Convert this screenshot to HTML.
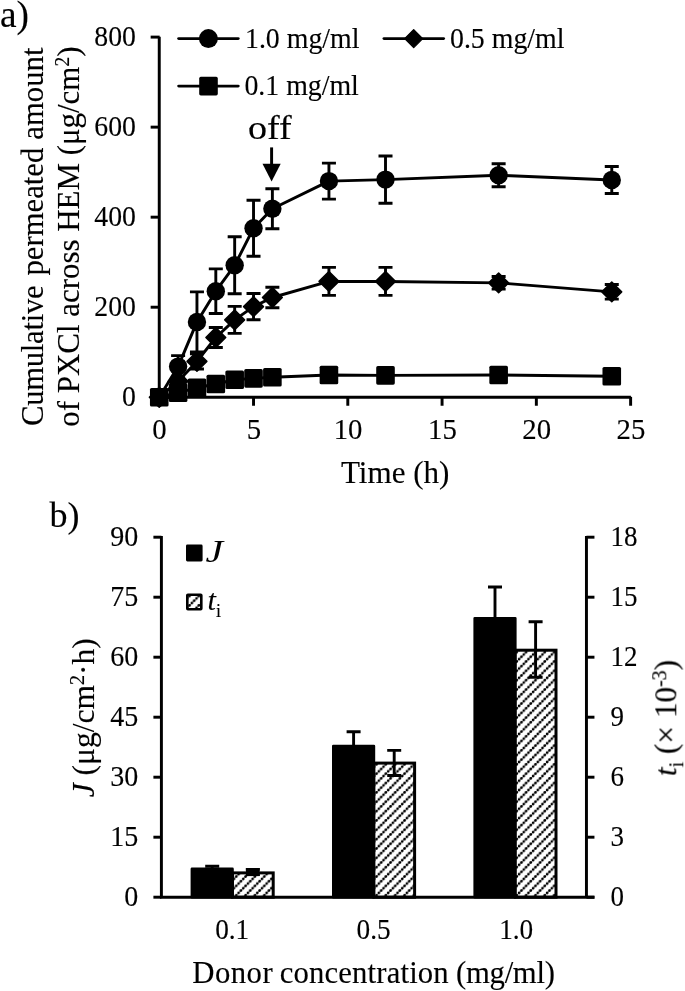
<!DOCTYPE html>
<html lang="en">
<head>
<meta charset="utf-8">
<title>Cumulative permeated amount of PXCl across HEM</title>
<style>
html,body{margin:0;padding:0;background:#fff;}
body{width:685px;height:991px;overflow:hidden;}
svg{display:block;}
text{font-family:"Liberation Serif", serif;fill:#000;stroke:#000;stroke-width:0.14px;stroke-linejoin:round;}
.tick{font-size:30.3px;}
.title{font-size:31.5px;}
.off{font-size:34.5px;}
.ws1{word-spacing:-1.5px;}
.ls1{letter-spacing:-0.3px;}
.legj{font-size:32.5px;stroke-width:0;}
.big{font-size:36px;}
.biga{font-size:37px;}
.it{font-style:italic;}
.sup{font-size:20px;}
.sub{font-size:18px;}
.sub2{font-size:20px;}
</style>
</head>
<body>
<svg width="685" height="991" viewBox="0 0 685 991">
<defs><filter id="soft" x="0" y="0" width="685" height="991" filterUnits="userSpaceOnUse" color-interpolation-filters="sRGB"><feGaussianBlur stdDeviation="0.35"/></filter></defs>
<rect width="685" height="991" fill="#fff"/>
<g filter="url(#soft)">
<g id="chart-a">
<path d="M159.25 36.80V397.25H630.92" stroke="#000" stroke-width="2.95" fill="none"/>
<path d="M150.65 397.25H159.65" stroke="#000" stroke-width="2.95"/>
<text id="ay0" transform="translate(135.90 406.45) scale(0.9150 1.0000)" text-anchor="end" class="tick">0</text>
<path d="M150.65 307.21H159.65" stroke="#000" stroke-width="2.95"/>
<text id="ay200" transform="translate(135.90 316.41) scale(0.9150 1.0000)" text-anchor="end" class="tick">200</text>
<path d="M150.65 217.17H159.65" stroke="#000" stroke-width="2.95"/>
<text id="ay400" transform="translate(135.90 226.37) scale(0.9150 1.0000)" text-anchor="end" class="tick">400</text>
<path d="M150.65 127.14H159.65" stroke="#000" stroke-width="2.95"/>
<text id="ay600" transform="translate(135.90 136.34) scale(0.9150 1.0000)" text-anchor="end" class="tick">600</text>
<path d="M150.65 37.10H159.65" stroke="#000" stroke-width="2.95"/>
<text id="ay800" transform="translate(135.90 46.30) scale(0.9150 1.0000)" text-anchor="end" class="tick">800</text>
<path d="M159.25 396.85V405.75" stroke="#000" stroke-width="2.95"/>
<text id="ax0" transform="translate(159.55 438.60) scale(0.9500 1.0000)" text-anchor="middle" class="tick">0</text>
<path d="M253.53 396.85V405.75" stroke="#000" stroke-width="2.95"/>
<text id="ax5" transform="translate(253.83 438.60) scale(0.9500 1.0000)" text-anchor="middle" class="tick">5</text>
<path d="M347.80 396.85V405.75" stroke="#000" stroke-width="2.95"/>
<text id="ax10" transform="translate(348.10 438.60) scale(0.9500 1.0000)" text-anchor="middle" class="tick">10</text>
<path d="M442.07 396.85V405.75" stroke="#000" stroke-width="2.95"/>
<text id="ax15" transform="translate(442.38 438.60) scale(0.9500 1.0000)" text-anchor="middle" class="tick">15</text>
<path d="M536.35 396.85V405.75" stroke="#000" stroke-width="2.95"/>
<text id="ax20" transform="translate(536.65 438.60) scale(0.9500 1.0000)" text-anchor="middle" class="tick">20</text>
<path d="M630.62 396.85V405.75" stroke="#000" stroke-width="2.95"/>
<text id="ax25" transform="translate(630.92 438.60) scale(0.9500 1.0000)" text-anchor="middle" class="tick">25</text>
<polyline points="159.25,397.25 178.10,392.80 196.96,387.70 215.81,384.00 234.67,379.70 253.53,378.40 272.38,377.20 328.94,375.00 385.51,375.40 498.64,375.00 611.77,376.20" fill="none" stroke="#000" stroke-width="2.95" stroke-linejoin="round"/>
<rect x="149.95" y="387.95" width="18.6" height="18.6" rx="1.6" fill="#000"/>
<rect x="168.80" y="383.50" width="18.6" height="18.6" rx="1.6" fill="#000"/>
<rect x="187.66" y="378.40" width="18.6" height="18.6" rx="1.6" fill="#000"/>
<rect x="206.51" y="374.70" width="18.6" height="18.6" rx="1.6" fill="#000"/>
<rect x="225.37" y="370.40" width="18.6" height="18.6" rx="1.6" fill="#000"/>
<rect x="244.22" y="369.10" width="18.6" height="18.6" rx="1.6" fill="#000"/>
<rect x="263.08" y="367.90" width="18.6" height="18.6" rx="1.6" fill="#000"/>
<rect x="319.64" y="365.70" width="18.6" height="18.6" rx="1.6" fill="#000"/>
<rect x="376.21" y="366.10" width="18.6" height="18.6" rx="1.6" fill="#000"/>
<rect x="489.34" y="365.70" width="18.6" height="18.6" rx="1.6" fill="#000"/>
<rect x="602.47" y="366.90" width="18.6" height="18.6" rx="1.6" fill="#000"/>
<polyline points="159.25,397.25 178.10,381.20 196.96,361.40 215.81,337.50 234.67,319.90 253.53,306.60 272.38,297.50 328.94,281.40 385.51,281.40 498.64,282.85 611.77,291.85" fill="none" stroke="#000" stroke-width="2.95" stroke-linejoin="round"/>
<path d="M159.25 387.35L169.15 397.25L159.25 407.15L149.35 397.25Z" fill="#000" stroke="#000" stroke-width="1.5" stroke-linejoin="round"/>
<path d="M178.10 371.30L188.00 381.20L178.10 391.10L168.20 381.20Z" fill="#000" stroke="#000" stroke-width="1.5" stroke-linejoin="round"/>
<path d="M196.96 353.80V369.00M189.96 353.80H203.96M189.96 369.00H203.96" stroke="#000" stroke-width="2.9" fill="none"/>
<path d="M196.96 351.50L206.86 361.40L196.96 371.30L187.06 361.40Z" fill="#000" stroke="#000" stroke-width="1.5" stroke-linejoin="round"/>
<path d="M215.81 327.50V347.50M208.81 327.50H222.81M208.81 347.50H222.81" stroke="#000" stroke-width="2.9" fill="none"/>
<path d="M215.81 327.60L225.72 337.50L215.81 347.40L205.91 337.50Z" fill="#000" stroke="#000" stroke-width="1.5" stroke-linejoin="round"/>
<path d="M234.67 306.40V333.40M227.67 306.40H241.67M227.67 333.40H241.67" stroke="#000" stroke-width="2.9" fill="none"/>
<path d="M234.67 310.00L244.57 319.90L234.67 329.80L224.77 319.90Z" fill="#000" stroke="#000" stroke-width="1.5" stroke-linejoin="round"/>
<path d="M253.53 293.50V319.70M246.53 293.50H260.52M246.53 319.70H260.52" stroke="#000" stroke-width="2.9" fill="none"/>
<path d="M253.53 296.70L263.43 306.60L253.53 316.50L243.62 306.60Z" fill="#000" stroke="#000" stroke-width="1.5" stroke-linejoin="round"/>
<path d="M272.38 287.20V307.80M265.38 287.20H279.38M265.38 307.80H279.38" stroke="#000" stroke-width="2.9" fill="none"/>
<path d="M272.38 287.60L282.28 297.50L272.38 307.40L262.48 297.50Z" fill="#000" stroke="#000" stroke-width="1.5" stroke-linejoin="round"/>
<path d="M328.94 267.40V295.40M321.94 267.40H335.94M321.94 295.40H335.94" stroke="#000" stroke-width="2.9" fill="none"/>
<path d="M328.94 271.50L338.84 281.40L328.94 291.30L319.05 281.40Z" fill="#000" stroke="#000" stroke-width="1.5" stroke-linejoin="round"/>
<path d="M385.51 267.40V295.40M378.51 267.40H392.51M378.51 295.40H392.51" stroke="#000" stroke-width="2.9" fill="none"/>
<path d="M385.51 271.50L395.41 281.40L385.51 291.30L375.61 281.40Z" fill="#000" stroke="#000" stroke-width="1.5" stroke-linejoin="round"/>
<path d="M498.64 276.55V289.15M491.64 276.55H505.64M491.64 289.15H505.64" stroke="#000" stroke-width="2.9" fill="none"/>
<path d="M498.64 272.95L508.54 282.85L498.64 292.75L488.74 282.85Z" fill="#000" stroke="#000" stroke-width="1.5" stroke-linejoin="round"/>
<path d="M611.77 284.55V299.15M604.77 284.55H618.77M604.77 299.15H618.77" stroke="#000" stroke-width="2.9" fill="none"/>
<path d="M611.77 281.95L621.67 291.85L611.77 301.75L601.87 291.85Z" fill="#000" stroke="#000" stroke-width="1.5" stroke-linejoin="round"/>
<polyline points="159.25,397.25 178.10,366.60 196.96,321.90 215.81,291.20 234.67,265.30 253.53,228.20 272.38,208.80 328.94,181.10 385.51,179.60 498.64,175.30 611.77,180.00" fill="none" stroke="#000" stroke-width="2.95" stroke-linejoin="round"/>
<circle cx="159.25" cy="397.25" r="9.2" fill="#000"/>
<path d="M178.10 355.60V377.60M171.10 355.60H185.10M171.10 377.60H185.10" stroke="#000" stroke-width="2.9" fill="none"/>
<circle cx="178.10" cy="366.60" r="9.2" fill="#000"/>
<path d="M196.96 291.90V351.90M189.96 291.90H203.96M189.96 351.90H203.96" stroke="#000" stroke-width="2.9" fill="none"/>
<circle cx="196.96" cy="321.90" r="9.2" fill="#000"/>
<path d="M215.81 268.90V313.50M208.81 268.90H222.81M208.81 313.50H222.81" stroke="#000" stroke-width="2.9" fill="none"/>
<circle cx="215.81" cy="291.20" r="9.2" fill="#000"/>
<path d="M234.67 236.80V293.80M227.67 236.80H241.67M227.67 293.80H241.67" stroke="#000" stroke-width="2.9" fill="none"/>
<circle cx="234.67" cy="265.30" r="9.2" fill="#000"/>
<path d="M253.53 200.20V256.20M246.53 200.20H260.52M246.53 256.20H260.52" stroke="#000" stroke-width="2.9" fill="none"/>
<circle cx="253.53" cy="228.20" r="9.2" fill="#000"/>
<path d="M272.38 188.80V228.80M265.38 188.80H279.38M265.38 228.80H279.38" stroke="#000" stroke-width="2.9" fill="none"/>
<circle cx="272.38" cy="208.80" r="9.2" fill="#000"/>
<path d="M328.94 163.10V199.10M321.94 163.10H335.94M321.94 199.10H335.94" stroke="#000" stroke-width="2.9" fill="none"/>
<circle cx="328.94" cy="181.10" r="9.2" fill="#000"/>
<path d="M385.51 156.00V203.20M378.51 156.00H392.51M378.51 203.20H392.51" stroke="#000" stroke-width="2.9" fill="none"/>
<circle cx="385.51" cy="179.60" r="9.2" fill="#000"/>
<path d="M498.64 163.80V186.80M491.64 163.80H505.64M491.64 186.80H505.64" stroke="#000" stroke-width="2.9" fill="none"/>
<circle cx="498.64" cy="175.30" r="9.2" fill="#000"/>
<path d="M611.77 166.50V193.50M604.77 166.50H618.77M604.77 193.50H618.77" stroke="#000" stroke-width="2.9" fill="none"/>
<circle cx="611.77" cy="180.00" r="9.2" fill="#000"/>
<path d="M178.7 38.6H238.2" stroke="#000" stroke-width="2.95" stroke-linecap="round"/>
<circle cx="208.4" cy="38.6" r="9.5" fill="#000"/>
<text id="leg1" transform="translate(245.00 47.80) scale(0.9190 1.0000)" class="tick">1.0 mg/ml</text>
<path d="M384 38.6H443.6" stroke="#000" stroke-width="2.95" stroke-linecap="round"/>
<path d="M413.7 29.6L422.7 38.6L413.7 47.6L404.7 38.6Z" fill="#000" stroke="#000" stroke-width="1.3" stroke-linejoin="round"/>
<text id="leg2" transform="translate(450.00 47.80) scale(0.9190 1.0000)" class="tick">0.5 mg/ml</text>
<path d="M178.7 86.1H238.2" stroke="#000" stroke-width="2.95" stroke-linecap="round"/>
<rect x="199.2" y="76.8" width="18.6" height="18.6" rx="1.6" fill="#000"/>
<text id="leg3" transform="translate(244.40 94.80) scale(0.9190 1.0000)" class="tick">0.1 mg/ml</text>
<text id="off" transform="translate(269.80 139.40) scale(1.1050 1.0000)" text-anchor="middle" class="off">off</text>
<path d="M271.6 147.4V166" stroke="#000" stroke-width="2.95"/>
<path d="M262.5 163.8H280.7L271.6 181.6Z" fill="#000"/>
<text id="ayt1" transform="translate(42.70 236.80) rotate(-90) scale(0.9750 1.0000)" text-anchor="middle" class="title"><tspan id="w1a" class="ls1">Cumulative</tspan><tspan id="w1b" dx="2.6"> permeated</tspan><tspan id="w1c" dx="0.4"> amount</tspan></text>
<text id="ayt2" transform="translate(78.70 236.60) rotate(-90) scale(0.9820 1.0000)" text-anchor="middle" class="title"><tspan id="w2a">of</tspan><tspan id="w2b" dx="0"> PXCl</tspan><tspan id="w2c" dx="0"> across</tspan><tspan id="w2d" dx="0"> HEM</tspan><tspan id="w2e" dx="0"> (μg/cm<tspan class="sup" dy="-10">2</tspan><tspan dy="10">)</tspan></tspan></text>
<text id="axt" transform="translate(395.20 483.00) scale(0.9870 1.0000)" text-anchor="middle" class="title">Time (h)</text>
<text id="pa" transform="translate(0.00 27.30) scale(1.0100 1.0000)" class="biga">a)</text>
</g>
<g id="chart-b">
<defs><pattern id="hatch" width="9.35" height="9.35" patternUnits="userSpaceOnUse"><rect width="9.35" height="9.35" fill="#fff"/><path d="M-2.00 2.20L2.20 -2.00" stroke="#000" stroke-width="0.8" stroke-opacity="0.7"/><path d="M-2.00 11.55L11.55 -2.00" stroke="#000" stroke-width="0.8" stroke-opacity="0.7"/><path d="M-2.00 20.90L20.90 -2.00" stroke="#000" stroke-width="0.8" stroke-opacity="0.7"/><circle cx="0.18" cy="0.02" r="1.35"/><circle cx="0.18" cy="9.37" r="1.35"/><circle cx="2.52" cy="7.03" r="1.35"/><circle cx="4.86" cy="4.69" r="1.35"/><circle cx="7.2" cy="2.36" r="1.35"/><circle cx="9.53" cy="0.02" r="1.35"/><circle cx="9.53" cy="9.37" r="1.35"/></pattern></defs>
<rect x="191.90" y="868.90" width="40.60" height="28.30" fill="#000" stroke="#000" stroke-width="2.6" stroke-linejoin="round"/>
<rect x="232.50" y="872.90" width="40.70" height="24.30" fill="url(#hatch)" stroke="#000" stroke-width="3.0"/>
<path d="M212.20 869.60V866.30M205.20 866.30H219.20" stroke="#000" stroke-width="2.9" fill="none"/>
<path d="M252.80 869.40V874.60M245.80 869.40H259.80M245.80 874.60H259.80" stroke="#000" stroke-width="2.9" fill="none"/>
<rect x="333.30" y="746.10" width="40.60" height="151.10" fill="#000" stroke="#000" stroke-width="2.6" stroke-linejoin="round"/>
<rect x="373.90" y="763.10" width="40.70" height="134.10" fill="url(#hatch)" stroke="#000" stroke-width="3.0"/>
<path d="M353.60 746.80V731.70M346.60 731.70H360.60" stroke="#000" stroke-width="2.9" fill="none"/>
<path d="M394.20 750.40V775.50M387.20 750.40H401.20M387.20 775.50H401.20" stroke="#000" stroke-width="2.9" fill="none"/>
<rect x="474.70" y="618.20" width="40.60" height="279.00" fill="#000" stroke="#000" stroke-width="2.6" stroke-linejoin="round"/>
<rect x="515.30" y="650.20" width="40.70" height="247.00" fill="url(#hatch)" stroke="#000" stroke-width="3.0"/>
<path d="M495.00 618.90V587.00M488.00 587.00H502.00" stroke="#000" stroke-width="2.9" fill="none"/>
<path d="M535.60 621.70V677.20M528.60 621.70H542.60M528.60 677.20H542.60" stroke="#000" stroke-width="2.9" fill="none"/>
<rect x="246.00" y="868.0" width="13.6" height="8.1" fill="#000"/>
<path d="M161.40 535.90V897.20H594.45" stroke="#000" stroke-width="2.95" fill="none"/>
<path d="M586.45 535.90V897.20" stroke="#000" stroke-width="2.95" fill="none"/>
<path d="M153.40 897.20H161.40" stroke="#000" stroke-width="2.95"/>
<text id="byl0" transform="translate(138.20 906.40) scale(0.9250 1.0000)" text-anchor="end" class="tick">0</text>
<path d="M586.45 897.20H594.45" stroke="#000" stroke-width="2.95"/>
<text id="byr0" transform="translate(610.40 906.40) scale(0.8900 1.0000)" class="tick">0</text>
<path d="M153.40 837.20H161.40" stroke="#000" stroke-width="2.95"/>
<text id="byl15" transform="translate(138.20 846.40) scale(0.9250 1.0000)" text-anchor="end" class="tick">15</text>
<path d="M586.45 837.20H594.45" stroke="#000" stroke-width="2.95"/>
<text id="byr3" transform="translate(610.40 846.40) scale(0.8900 1.0000)" class="tick">3</text>
<path d="M153.40 777.20H161.40" stroke="#000" stroke-width="2.95"/>
<text id="byl30" transform="translate(138.20 786.40) scale(0.9250 1.0000)" text-anchor="end" class="tick">30</text>
<path d="M586.45 777.20H594.45" stroke="#000" stroke-width="2.95"/>
<text id="byr6" transform="translate(610.40 786.40) scale(0.8900 1.0000)" class="tick">6</text>
<path d="M153.40 717.20H161.40" stroke="#000" stroke-width="2.95"/>
<text id="byl45" transform="translate(138.20 726.40) scale(0.9250 1.0000)" text-anchor="end" class="tick">45</text>
<path d="M586.45 717.20H594.45" stroke="#000" stroke-width="2.95"/>
<text id="byr9" transform="translate(610.40 726.40) scale(0.8900 1.0000)" class="tick">9</text>
<path d="M153.40 657.20H161.40" stroke="#000" stroke-width="2.95"/>
<text id="byl60" transform="translate(138.20 666.40) scale(0.9250 1.0000)" text-anchor="end" class="tick">60</text>
<path d="M586.45 657.20H594.45" stroke="#000" stroke-width="2.95"/>
<text id="byr12" transform="translate(610.40 666.40) scale(0.8900 1.0000)" class="tick">12</text>
<path d="M153.40 597.20H161.40" stroke="#000" stroke-width="2.95"/>
<text id="byl75" transform="translate(138.20 606.40) scale(0.9250 1.0000)" text-anchor="end" class="tick">75</text>
<path d="M586.45 597.20H594.45" stroke="#000" stroke-width="2.95"/>
<text id="byr15" transform="translate(610.40 606.40) scale(0.8900 1.0000)" class="tick">15</text>
<path d="M153.40 537.20H161.40" stroke="#000" stroke-width="2.95"/>
<text id="byl90" transform="translate(138.20 546.40) scale(0.9250 1.0000)" text-anchor="end" class="tick">90</text>
<path d="M586.45 537.20H594.45" stroke="#000" stroke-width="2.95"/>
<text id="byr18" transform="translate(610.40 546.40) scale(0.8900 1.0000)" class="tick">18</text>
<text id="bx0" transform="translate(232.20 938.80) scale(0.9000 1.0000)" text-anchor="middle" class="tick">0.1</text>
<text id="bx1" transform="translate(373.60 938.80) scale(0.9000 1.0000)" text-anchor="middle" class="tick">0.5</text>
<text id="bx2" transform="translate(516.20 938.80) scale(0.9000 1.0000)" text-anchor="middle" class="tick">1.0</text>
<rect x="186.0" y="544.5" width="16.6" height="17.0" rx="1.4" fill="#000"/>
<text id="legJ" transform="translate(205.40 562.20) scale(1.2200 1.0000)" class="legj it">J</text>
<rect x="187.3" y="594.7" width="14.0" height="14.5" rx="0.6" fill="url(#hatch)" stroke="#000" stroke-width="2.6"/>
<text id="legT" transform="translate(207.50 610.00)" class="tick"><tspan class="it">t</tspan><tspan class="sub" dy="6.8">i</tspan></text>
<text id="byt" transform="translate(94.20 717.80) rotate(-90)" text-anchor="middle" class="title"><tspan class="it">J</tspan> (μg/cm<tspan class="sup" dy="-10">2</tspan><tspan dy="10">·h)</tspan></text>
<text id="byt2" transform="translate(676.30 718.00) rotate(-90) scale(0.9930 1.0000)" text-anchor="middle" class="title"><tspan class="it">t</tspan><tspan class="sub2" dy="6.8">i</tspan><tspan dy="-6.8"> (× 10</tspan><tspan class="sup" dy="-10">-3</tspan><tspan dy="10">)</tspan></text>
<text id="bxt" transform="translate(192.30 983.10) scale(0.9750 1.0000)" class="title"><tspan id="w3a" style="letter-spacing:0.49px">Donor</tspan> <tspan id="w3b" dx="-1.2" style="letter-spacing:0.17px">concentration</tspan> <tspan id="w3c" dx="-0.5" style="letter-spacing:-0.3px">(mg/ml)</tspan></text>
<text id="pb" transform="translate(49.50 526.80)" class="big">b)</text>
</g>
</g>
</svg>
</body>
</html>
